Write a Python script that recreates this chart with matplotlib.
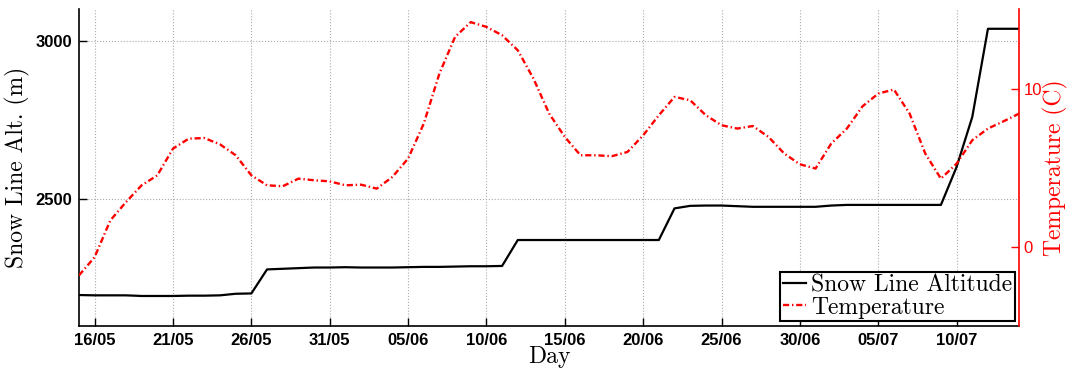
import numpy as np
import pandas as pd
import matplotlib
matplotlib.use("Agg")
import matplotlib.pyplot as plt
import matplotlib.dates as mdates

days = pd.date_range("2014-05-15", "2014-07-14", freq="D")

snow_alt = [2197, 2196, 2196, 2196, 2194, 2194, 2194, 2195, 2195, 2196,
            2201, 2202, 2278, 2280, 2282, 2284, 2284, 2285, 2284, 2284,
            2284, 2285, 2286, 2286, 2287, 2288, 2288, 2289, 2371, 2371,
            2371, 2371, 2371, 2371, 2371, 2371, 2371, 2371, 2471, 2479,
            2480, 2480, 2478, 2476, 2476, 2476, 2476, 2476, 2480, 2482,
            2482, 2482, 2482, 2482, 2482, 2482, 2602, 2760, 3039, 3039,
            3039]

temp = [-1.82, -0.66, 1.66, 2.82, 3.88, 4.51, 6.2, 6.83, 6.87, 6.47,
        5.78, 4.51, 3.88, 3.82, 4.3, 4.2, 4.13, 3.88, 3.92, 3.67,
        4.41, 5.57, 7.78, 10.95, 13.27, 14.2, 13.9, 13.37, 12.42, 10.63,
        8.42, 6.94, 5.78, 5.78, 5.72, 5.99, 7.04, 8.31, 9.47, 9.26,
        8.31, 7.68, 7.47, 7.63, 6.94, 5.89, 5.21, 4.94, 6.52, 7.47,
        8.88, 9.68, 9.94, 8.42, 5.89, 4.3, 5.25, 6.73, 7.47, 7.93,
        8.42]

tick_days = pd.date_range("2014-05-16", "2014-07-10", freq="5D")
alt_ticks = [2500, 3000]
temp_ticks = [0, 10]

serif = "cmr10"

fig = plt.figure(figsize=(10.7, 3.71), dpi=100)
ax = fig.add_axes([0.0738, 0.1221, 0.8788, 0.8523])
ax2 = ax.twinx()

l1, = ax.plot(days, snow_alt, color="black", lw=1.6, label="Snow Line Altitude")
l2, = ax2.plot(days, temp, color="red", lw=1.7, ls=(0, (2.6, 1.2, 0.6, 1.2)),
               label="Temperature")

ax.set_xlim(days[0], days[-1])
ax.set_ylim(2100, 3100)
ax2.set_ylim(-5, 15)

ax.set_xticks(tick_days)
ax.xaxis.set_major_formatter(mdates.DateFormatter("%d/%m"))
ax.set_yticks(alt_ticks)
ax2.set_yticks(temp_ticks)

for lab in ax.get_xticklabels() + ax.get_yticklabels():
    lab.set_fontweight("bold")
    lab.set_fontsize(12)
    lab.set_family("Liberation Sans")
for lab in ax2.get_yticklabels():
    lab.set_fontsize(12)
    lab.set_family("Liberation Sans")

ax.tick_params(direction="in", length=6, width=1, pad=5)
ax2.tick_params(direction="in", length=6, width=1, colors="red", pad=3)

ax.grid(True, ls=":", color="#aaaaaa", lw=0.8)

for a in (ax, ax2):
    a.spines["top"].set_visible(False)
ax2.spines["left"].set_visible(False)
ax2.spines["bottom"].set_visible(False)
ax.spines["right"].set_visible(False)
ax2.spines["right"].set_color("red")
for s in ("left", "bottom"):
    ax.spines[s].set_linewidth(1.2)
ax2.spines["right"].set_linewidth(1.2)

ax.set_ylabel("Snow Line Alt. (m)", family=serif, fontsize=17)
ax.set_xlabel("Day", family=serif, fontsize=17, labelpad=-1)
ax2.set_ylabel("Temperature (C)", family=serif, fontsize=17, color="red",
               labelpad=1)

leg = ax2.legend([l1, l2], ["Snow Line Altitude", "Temperature"],
                 loc="lower right", prop={"family": serif, "size": 17},
                 fancybox=False, framealpha=1, edgecolor="black",
                 handlelength=1.0, handletextpad=0.2, labelspacing=0.0,
                 borderpad=0.1, borderaxespad=0.2)
leg.get_frame().set_linewidth(1.5)

fig.savefig("out.png", dpi=100)
